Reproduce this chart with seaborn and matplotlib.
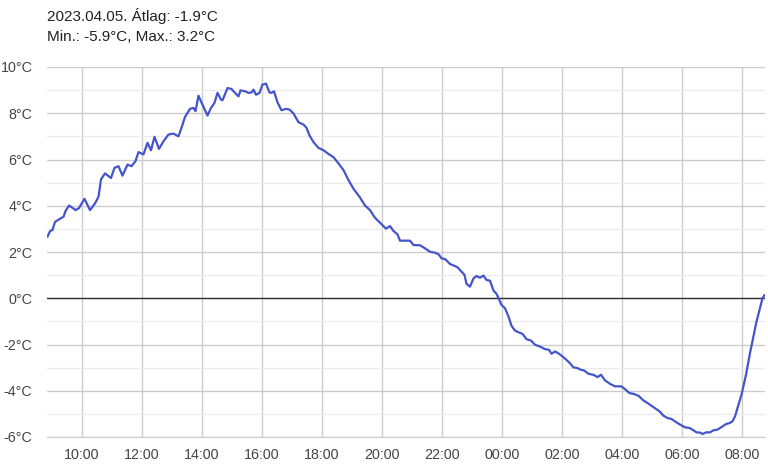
import matplotlib
matplotlib.use("Agg")
import matplotlib.pyplot as plt
import matplotlib.dates as mdates
import matplotlib.ticker as ticker
import seaborn as sns
import pandas as pd

# measurement times (08:50 on 2023.04.05 to 08:50 next day) and temperatures
times = [
    "08:51", "08:56", "09:01", "09:06", "09:16", "09:23", "09:27", "09:34", "09:41", "09:47",
    "09:54", "10:05", "10:16", "10:26", "10:33", "10:38", "10:46", "10:58", "11:05", "11:13",
    "11:21", "11:31", "11:39", "11:47", "11:53", "12:03", "12:11", "12:18", "12:25", "12:34",
    "12:43", "12:53", "13:03", "13:13", "13:19", "13:26", "13:36", "13:43", "13:47", "13:53",
    "14:01", "14:11", "14:18", "14:25", "14:31", "14:38", "14:41", "14:51", "14:59", "15:06",
    "15:13", "15:17", "15:26", "15:33", "15:39", "15:43", "15:48", "15:55", "16:01", "16:08",
    "16:15", "16:19", "16:24", "16:31", "16:39", "16:48", "16:55", "17:03", "17:13", "17:23",
    "17:29", "17:35", "17:43", "17:53", "18:03", "18:13", "18:23", "18:33", "18:43", "18:53",
    "19:03", "19:15", "19:26", "19:36", "19:46", "19:56", "20:08", "20:16", "20:23", "20:31",
    "20:36", "20:46", "20:56", "21:03", "21:16", "21:26", "21:36", "21:46", "21:53", "21:59",
    "22:07", "22:16", "22:25", "22:31", "22:39", "22:45", "22:49", "22:56", "23:03", "23:09",
    "23:16", "23:23", "23:29", "23:36", "23:43", "23:49", "23:54", "23:59", "00:06", "00:13",
    "00:19", "00:26", "00:34", "00:41", "00:49", "00:58", "01:06", "01:16", "01:26", "01:34",
    "01:39", "01:46", "01:54", "02:03", "02:16", "02:23", "02:31", "02:37", "02:44", "02:53",
    "03:03", "03:11", "03:18", "03:26", "03:36", "03:46", "03:59", "04:06", "04:15", "04:24",
    "04:33", "04:43", "04:53", "05:03", "05:15", "05:23", "05:31", "05:39", "05:49", "05:59",
    "06:06", "06:15", "06:23", "06:29", "06:36", "06:41", "06:48", "06:56", "07:03", "07:11",
    "07:19", "07:28", "07:35", "07:41", "07:46", "07:51", "07:59", "08:08", "08:16", "08:23",
    "08:29", "08:36", "08:41", "08:45",
]
temps = [
    2.66, 2.90, 2.95, 3.30, 3.44, 3.52, 3.77, 4.01, 3.91, 3.81,
    3.90, 4.30, 3.81, 4.10, 4.39, 5.14, 5.40, 5.20, 5.64, 5.71,
    5.30, 5.78, 5.71, 5.93, 6.32, 6.22, 6.72, 6.40, 6.98, 6.46,
    6.79, 7.08, 7.12, 7.00, 7.37, 7.84, 8.19, 8.23, 8.09, 8.76,
    8.37, 7.90, 8.23, 8.45, 8.88, 8.59, 8.56, 9.09, 9.05, 8.88,
    8.73, 8.99, 8.95, 8.88, 8.90, 9.02, 8.80, 8.88, 9.24, 9.28,
    8.90, 8.88, 8.95, 8.47, 8.13, 8.19, 8.16, 7.99, 7.61, 7.51,
    7.37, 7.04, 6.75, 6.50, 6.40, 6.24, 6.10, 5.83, 5.54, 5.11,
    4.73, 4.39, 4.01, 3.81, 3.48, 3.27, 3.01, 3.12, 2.91, 2.76,
    2.49, 2.49, 2.49, 2.30, 2.29, 2.16, 2.01, 1.97, 1.90, 1.73,
    1.68, 1.48, 1.40, 1.34, 1.15, 1.01, 0.62, 0.50, 0.86, 0.96,
    0.89, 0.98, 0.79, 0.76, 0.33, 0.19, -0.04, -0.29, -0.43, -0.79,
    -1.19, -1.40, -1.48, -1.54, -1.77, -1.83, -2.01, -2.09, -2.20, -2.23,
    -2.40, -2.30, -2.40, -2.55, -2.81, -2.99, -3.02, -3.09, -3.12, -3.27,
    -3.31, -3.41, -3.31, -3.55, -3.70, -3.81, -3.81, -3.93, -4.10, -4.14,
    -4.22, -4.42, -4.56, -4.71, -4.89, -5.08, -5.18, -5.22, -5.37, -5.50,
    -5.58, -5.61, -5.71, -5.80, -5.81, -5.87, -5.80, -5.80, -5.71, -5.68,
    -5.57, -5.44, -5.40, -5.32, -5.11, -4.75, -4.17, -3.31, -2.37, -1.63,
    -1.01, -0.43, 0.00, 0.14,
]
title_lines = ["2023.04.05. Átlag: -1.9°C", "Min.: -5.9°C, Max.: 3.2°C"]


def build_frame():
    stamps = []
    day = pd.Timestamp("2023-04-05")
    prev = None
    for t in times:
        ts = day + pd.Timedelta(hours=int(t[:2]), minutes=int(t[3:]))
        if prev is not None and ts < prev:
            day = day + pd.Timedelta(days=1)
            ts = ts + pd.Timedelta(days=1)
        stamps.append(ts)
        prev = ts
    return pd.DataFrame({"time": stamps, "temp": temps})


def main():
    sns.set_style("white")
    plt.rcParams["font.family"] = ["Liberation Sans", "DejaVu Sans"]

    data = build_frame()

    fig = plt.figure(figsize=(7.68, 4.68), dpi=100)
    ax = fig.add_axes([47 / 768, 1 - 437 / 468, 718 / 768, 370 / 468])

    sns.lineplot(data=data, x="time", y="temp", color="#4455cc", linewidth=1.6, ax=ax, zorder=3)

    ax.set_xlim(pd.Timestamp("2023-04-05 08:50"), pd.Timestamp("2023-04-06 08:46"))
    ax.set_ylim(-6, 10)

    # gridlines
    ax.yaxis.set_major_locator(ticker.MultipleLocator(2))
    ax.yaxis.set_minor_locator(ticker.MultipleLocator(1))
    ax.yaxis.set_major_formatter(ticker.FuncFormatter(lambda v, pos: f"{v:g}°C"))
    ax.xaxis.set_major_locator(mdates.HourLocator(byhour=range(0, 24, 2)))
    ax.xaxis.set_minor_locator(mdates.HourLocator(byhour=range(1, 24, 2)))
    ax.xaxis.set_major_formatter(mdates.DateFormatter("%H:%M"))

    ax.grid(which="major", axis="both", color="#cccccc", linewidth=1)
    ax.grid(which="minor", axis="y", color="#ebebeb", linewidth=1)
    ax.set_axisbelow(True)
    ax.axhline(0, color="#333333", linewidth=1, zorder=2)

    for side in ["top", "right", "left"]:
        ax.spines[side].set_visible(False)
    ax.spines["bottom"].set_color("#cccccc")

    ax.tick_params(axis="y", which="both", length=0, pad=10.5, labelsize=10.3, labelcolor="#444444")
    ax.tick_params(axis="x", which="major", length=0, pad=8, labelsize=10.3, labelcolor="#444444")
    ax.tick_params(axis="x", which="minor", length=3, direction="in", color="#cccccc", width=1)

    ax.set_xlabel("")
    ax.set_ylabel("")

    fig.text(47 / 768, 1 - 21 / 468, title_lines[0], fontsize=11, color="#222222", va="baseline")
    fig.text(47 / 768, 1 - 41 / 468, title_lines[1], fontsize=11, color="#222222", va="baseline")

    fig.savefig("out.png", dpi=100)


if __name__ == "__main__":
    main()
